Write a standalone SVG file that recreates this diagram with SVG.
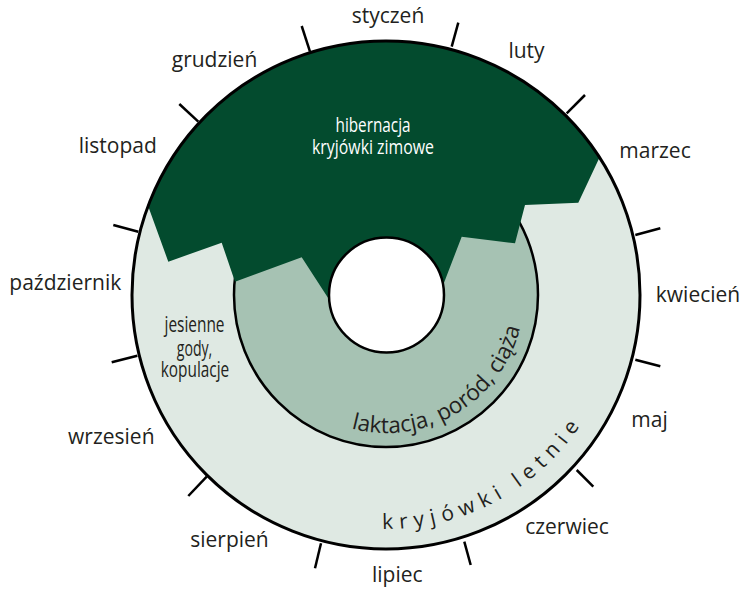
<svg xmlns="http://www.w3.org/2000/svg" xmlns:xlink="http://www.w3.org/1999/xlink" width="744" height="589" viewBox="0 0 744 589">
<style>
.month{font-family:"Open Sans","Noto Sans","Liberation Sans",sans-serif;font-size:21px;fill:#231f20;text-anchor:middle}
.tick{stroke:#000;stroke-width:2.5;fill:none;stroke-linecap:butt}
.cond{font-family:"Open Sans","Noto Sans","Liberation Sans",sans-serif;text-anchor:middle}
.arc{font-family:"Open Sans","Noto Sans","Liberation Sans",sans-serif;fill:#231f20}
</style>
<defs>
<path id="arcInner" d="M 338.8 424.7 A 138 138 0 0 0 524 295"/>
<path id="arcOuter" d="M 345.4 525.4 A 234 234 0 0 0 605.9 375"/>
</defs>
<rect width="744" height="589" fill="#fff"/>
<g id="summer-ring">
<circle cx="386" cy="295" r="254" fill="#dfe9e3"/>
</g>
<g id="breeding-ring">
<circle cx="386" cy="295" r="152" fill="#a6c2b3" stroke="#000" stroke-width="2.5"/>
</g>
<g id="hibernation">
<path d="M 599.5 157.4 A 254 254 0 0 0 148.1 206 L 168.3 261.7 L 221.7 242.7 L 235 281.7 L 301.7 257.3 L 332 304 L 442 288 L 461.7 236.7 L 515 243.3 L 525 205 L 578.3 202.7 Z" fill="#034b2e"/>
<text class="cond" fill="#fff" font-size="19.5" x="373" y="132.3" textLength="75" lengthAdjust="spacingAndGlyphs">hibernacja</text>
<text class="cond" fill="#fff" font-size="19.5" x="373" y="154" textLength="122" lengthAdjust="spacingAndGlyphs">kryjówki zimowe</text>
</g>
<g id="outline">
<circle cx="386" cy="295" r="254" fill="none" stroke="#000" stroke-width="3"/>
</g>
<g id="hole">
<circle cx="386.5" cy="295" r="57.5" fill="#fff" stroke="#000" stroke-width="2.5"/>
</g>
<g id="mating">
<text class="cond" fill="#231f20" font-size="21.5" x="194.5" y="332.3" textLength="60" lengthAdjust="spacingAndGlyphs">jesienne</text>
<text class="cond" fill="#231f20" font-size="21.5" x="194.5" y="356" textLength="35.5" lengthAdjust="spacingAndGlyphs">gody,</text>
<text class="cond" fill="#231f20" font-size="21.5" x="195" y="377.3" textLength="68.5" lengthAdjust="spacingAndGlyphs">kopulacje</text>
</g>
<g id="breeding-label">
<text class="arc" font-size="22.5"><textPath xlink:href="#arcInner" href="#arcInner" startOffset="13">laktacja, poród, ciąża</textPath></text>
</g>
<g id="summer-label">
<text class="arc" font-size="21" letter-spacing="6.5"><textPath xlink:href="#arcOuter" href="#arcOuter" startOffset="37">kryjówki letnie</textPath></text>
</g>
<g id="ticks">
<line class="tick" x1="310" y1="51.7" x2="301.7" y2="26"/>
<line class="tick" x1="451.7" y1="46.7" x2="458.3" y2="22.7"/>
<line class="tick" x1="566.7" y1="113.3" x2="585" y2="95"/>
<line class="tick" x1="635.3" y1="235" x2="660.3" y2="228.3"/>
<line class="tick" x1="635.3" y1="359.7" x2="660.3" y2="366.3"/>
<line class="tick" x1="576.7" y1="470" x2="593.3" y2="486.7"/>
<line class="tick" x1="464.3" y1="541.7" x2="470.7" y2="565"/>
<line class="tick" x1="321" y1="543.3" x2="315" y2="568.3"/>
<line class="tick" x1="206.7" y1="476.7" x2="188.3" y2="496"/>
<line class="tick" x1="137.3" y1="355.7" x2="111.7" y2="362.3"/>
<line class="tick" x1="138.3" y1="231.7" x2="113.3" y2="225"/>
<line class="tick" x1="198.3" y1="121.7" x2="179.3" y2="104"/>
</g>
<g id="months">
<text class="month" x="388" y="22.7">styczeń</text>
<text class="month" x="526.5" y="57.5">luty</text>
<text class="month" x="655" y="158.3">marzec</text>
<text class="month" x="698" y="301.7">kwiecień</text>
<text class="month" x="649.5" y="427.3">maj</text>
<text class="month" x="567" y="534">czerwiec</text>
<text class="month" x="397.3" y="581.7">lipiec</text>
<text class="month" x="229.5" y="546.5">sierpień</text>
<text class="month" x="111.3" y="444">wrzesień</text>
<text class="month" x="65.3" y="290">październik</text>
<text class="month" x="117.8" y="153.3">listopad</text>
<text class="month" x="214.5" y="66.7">grudzień</text>
</g>
</svg>
